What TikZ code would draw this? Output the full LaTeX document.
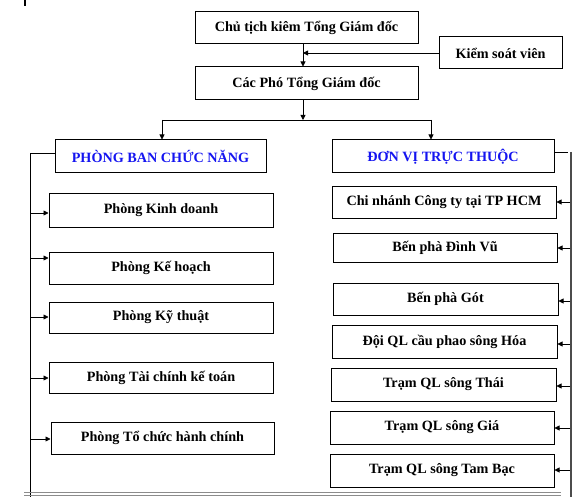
\documentclass[tikz,border=0pt]{standalone}
\usepackage{fontspec}
\setmainfont{Liberation Serif}
\usetikzlibrary{arrows.meta}
\definecolor{hdblue}{RGB}{20,20,240}
\tikzset{
  box/.style={draw=black, line width=1pt, rectangle, inner sep=0pt, font=\fontsize{14.2}{16}\selectfont\bfseries, text=black},
  hbox/.style={box, text=hdblue},
  conn/.style={draw=black, line width=0.8pt},
  arr/.style={conn, -{Triangle[length=5pt,width=5pt]}},
  busr/.style={draw=black!70, line width=1.2pt},
  pageline/.style={draw=black!45, line width=0.8pt}
}
\begin{document}
\begin{tikzpicture}[x=1pt,y=-1pt]
\useasboundingbox (0,0) rectangle (586,497);
\fill[black] (24,0) rectangle (26,6);
% top
\node[box, minimum width=223pt, minimum height=32pt] (b1) at (306.5,28) {Chủ tịch kiêm Tổng Giám đốc};
\node[box, minimum width=123pt, minimum height=32pt] (ksv) at (500.5,53) {Kiểm soát viên};
\node[box, minimum width=223pt, minimum height=33pt] (b2) at (306.5,83.5) {Các Phó Tổng Giám đốc};
\node[hbox, minimum width=211pt, minimum height=33pt] (pb) at (160.5,156.5) {PHÒNG BAN CHỨC NĂNG};
\node[hbox, minimum width=222pt, minimum height=33pt] (dv) at (443,156.5) {ĐƠN VỊ TRỰC THUỘC};
% left boxes
\node[box, minimum width=224pt, minimum height=33pt] (kd) at (161,210.5) {Phòng Kinh doanh};
\node[box, minimum width=224pt, minimum height=32pt] (kh) at (161,268) {Phòng Kế hoạch};
\node[box, minimum width=224pt, minimum height=31pt] (kt) at (161,317.5) {Phòng Kỹ thuật};
\node[box, minimum width=224pt, minimum height=31pt] (tc) at (161,377.5) {Phòng Tài chính kế toán};
\node[box, minimum width=223pt, minimum height=32pt] (hc) at (162.5,438) {Phòng Tổ chức hành chính};
% right boxes
\node[box, minimum width=224pt, minimum height=31pt] (cn) at (444,202.5) {Chi nhánh Công ty tại TP HCM};
\node[box, minimum width=224pt, minimum height=29pt] (dvu) at (445,247.5) {Bến phà Đình Vũ};
\node[box, minimum width=225pt, minimum height=32pt] (got) at (445.5,299) {Bến phà Gót};
\node[box, minimum width=225pt, minimum height=33pt] (dql) at (444.5,341.5) {Đội QL cầu phao sông Hóa};
\node[box, minimum width=225pt, minimum height=33pt] (thai) at (443.5,384.5) {Trạm QL sông Thái};
\node[box, minimum width=224pt, minimum height=33pt] (gia) at (442,427.5) {Trạm QL sông Giá};
\node[box, minimum width=224pt, minimum height=33pt] (tb) at (442,470.5) {Trạm QL sông Tam Bạc};
% coordinates
\coordinate (tx) at (303,0);
\coordinate (jn) at (303,120);
\coordinate (jl) at (162,120);
\coordinate (jr) at (431,120);
\coordinate (lb) at (30,153.5);
\coordinate (lbe) at (30,497);
\coordinate (rb) at (571,152);
\coordinate (rbe) at (571,497);
% top connectors
\draw[arr] (b1.south -| tx) -- (b2.north -| tx);
\draw[arr] (ksv.west) -- (ksv.west -| tx);
\draw[arr] (b2.south -| tx) -- (jn);
\draw[conn] (jl) -- (jr);
\draw[arr] (jl) -- (pb.north -| jl);
\draw[arr] (jr) -- (dv.north -| jr);
% left bus
\draw[conn] ([yshift=3pt]pb.west) -- (lb) -- (lbe);
\foreach \n/\yy in {kd/213, kh/258, kt/317, tc/378, hc/439}{
  \coordinate (l\n) at (30,\yy);
  \draw[arr] (l\n) -- (l\n -| \n.west);
}
% right bus
\draw[conn] ([yshift=4.5pt]dv.east) -- (568,152);
\draw[busr] (rb) -- (rbe);
\foreach \n/\yy in {cn/202, dvu/248, got/301, dql/344, thai/386, gia/428, tb/470}{
  \coordinate (r\n) at (570,\yy);
  \draw[arr] (r\n) -- (r\n -| \n.east);
}
% page border lines
\draw[pageline] (24,492.5) -- (561,492.5);
\draw[pageline] (24,495.5) -- (561,495.5);
\end{tikzpicture}
\end{document}
